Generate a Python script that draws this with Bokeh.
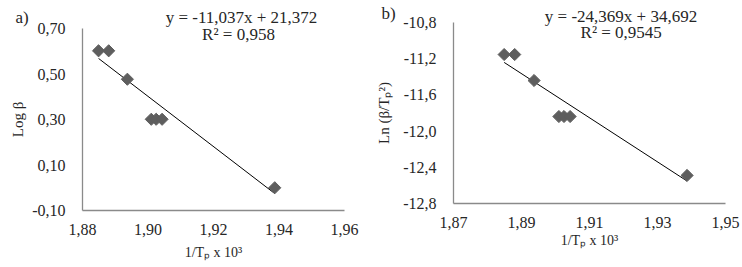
import math
from bokeh.plotting import figure
from bokeh.layouts import row
from bokeh.models import FixedTicker, CustomJSTickFormatter, Label
from bokeh.embed import file_html
from bokeh.resources import INLINE

# ---- data ----
inv_tp = [1.8849, 1.8880, 1.8937, 1.9010, 1.9025, 1.9043, 1.9387]   # 1/Tp x 10^3
log_beta = [0.602, 0.602, 0.477, 0.301, 0.301, 0.301, 0.000]
ln_beta_tp2 = [-11.154, -11.154, -11.441, -11.839, -11.839, -11.839, -12.490]

fit_a = (-11.037, 21.372)   # slope, intercept
fit_b = (-24.369, 34.692)

eq_a = ["y = -11,037x + 21,372", "R\u00b2 = 0,958"]
eq_b = ["y = -24,369x + 34,692", "R\u00b2 = 0,9545"]

xticks_a = [1.88, 1.90, 1.92, 1.94, 1.96]
yticks_a = [-0.10, 0.10, 0.30, 0.50, 0.70]
xticks_b = [1.87, 1.89, 1.91, 1.93, 1.95]
yticks_b = [-12.8, -12.4, -12.0, -11.6, -11.2, -10.8]

FONT = "Liberation Serif"
TXT = "#262626"
AXC = "#8a8a8a"
MK = "#5e5e5e"
W, H = 371, 267


def make(xb, yb, xt, yt, xdec, ydec, xlab, ylab, ydata, fit, eq, tag,
         frame, eqpos, tagpos, xstand, ystand, xtstand):
    # frame = pixel box (left, right, top, bottom) of the axes inside the canvas
    fl, fr, ft, fb = frame
    kx = (xb[1] - xb[0]) / (fr - fl)
    ky = (yb[1] - yb[0]) / (fb - ft)
    xr = (xb[0] - fl * kx, xb[1] + (W - fr) * kx)
    yr = (yb[0] - (H - fb) * ky, yb[1] + ft * ky)
    p = figure(width=W, height=H, x_range=xr, y_range=yr,
               output_backend="svg", toolbar_location=None,
               min_border_left=0, min_border_right=0,
               min_border_top=0, min_border_bottom=0)
    p.outline_line_color = None
    p.xgrid.visible = False
    p.ygrid.visible = False

    def dx(px):
        return xr[0] + px * kx

    def dy(py):
        return yr[1] - py * ky

    for ax, ticks, dec, lab, lfs in ((p.xaxis[0], xt, xdec, xlab, "14px"),
                                     (p.yaxis[0], yt, ydec, ylab, "15px")):
        ax.ticker = FixedTicker(ticks=ticks)
        ax.formatter = CustomJSTickFormatter(
            code="return tick.toFixed(%d).replace('.', ',');" % dec)
        ax.axis_line_color = AXC
        ax.axis_line_width = 1.3
        ax.major_tick_line_color = None
        ax.minor_tick_line_color = None
        ax.major_label_text_font = FONT
        ax.major_label_text_font_size = "16px"
        ax.major_label_text_color = TXT
        ax.axis_label = lab
        ax.axis_label_text_font = FONT
        ax.axis_label_text_font_size = lfs
        ax.axis_label_text_font_style = "normal"
        ax.axis_label_text_color = TXT
    p.xaxis.fixed_location = yb[0]
    p.xaxis.bounds = xb
    p.yaxis.fixed_location = xb[0]
    p.yaxis.bounds = yb
    p.xaxis.major_label_standoff = xtstand
    p.yaxis.major_label_standoff = 11
    p.xaxis.axis_label_standoff = xstand
    p.yaxis.axis_label_standoff = ystand

    x0, x1 = min(inv_tp), max(inv_tp)
    p.line([x0, x1], [fit[0] * x0 + fit[1], fit[0] * x1 + fit[1]],
           line_color="black", line_width=1)
    p.scatter(inv_tp, ydata, marker="square", angle=math.pi / 4, size=8.6,
              fill_color=MK, line_color=MK)

    for (cx, cy), t in zip(eqpos, eq):
        p.add_layout(Label(x=dx(cx), y=dy(cy), text=t, text_align="center",
                           text_baseline="middle", text_font=FONT,
                           text_font_size="17px", text_color=TXT))
    p.add_layout(Label(x=dx(tagpos[0]), y=dy(tagpos[1]), text=tag, text_align="left",
                       text_baseline="middle", text_font=FONT,
                       text_font_size="17px", text_color=TXT))
    return p


pa = make((1.88, 1.96), (-0.10, 0.70), xticks_a, yticks_a, 2, 2,
          "1/T\u209a x 10\u00b3", "Log \u03b2", log_beta, fit_a, eq_a, "a)",
          (82, 344, 28, 210), [(241, 17), (238, 34)], (15, 17), 7, 3, 7)
pb = make((1.87, 1.95), (-12.8, -10.8), xticks_b, yticks_b, 2, 1,
          "1/T\u209a x 10\u00b3", "Ln (\u03b2/T\u209a\u00b2)", ln_beta_tp2, fit_b, eq_b, "b)",
          (82, 354, 22, 203), [(249.5, 16), (249.7, 32)], (10, 13), 2, 8, 7)

layout = row(pa, pb, spacing=0)
open("out.html", "w").write(file_html(layout, INLINE))
